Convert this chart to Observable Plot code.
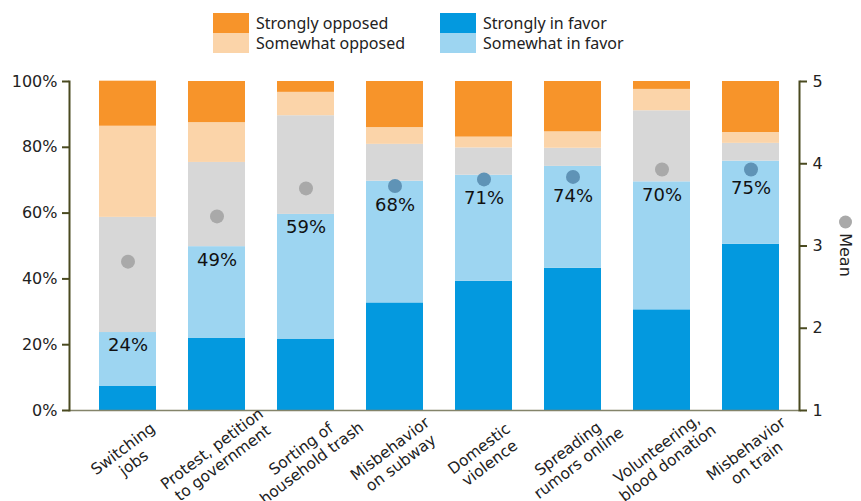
<!DOCTYPE html>
<html><head><meta charset="utf-8">
<script src="https://cdn.jsdelivr.net/npm/d3@7"></script>
<script src="https://cdn.jsdelivr.net/npm/@observablehq/plot@0.6"></script>
<style>
body{margin:0;background:#fff;width:861px;height:501px;overflow:hidden;font-family:"DejaVu Sans",sans-serif}
#legend{position:relative;height:60px}
.sw{position:absolute;width:36px;height:20px}
.lt{position:absolute;font-family:"Noto Sans",sans-serif;font-size:16px;color:#222;line-height:20px;white-space:nowrap}
</style></head><body>
<div id="legend"></div>
<div id="chart"></div>
<script>
// ---------- data ----------
const categories = ["Switching jobs","Protest, petition to government","Sorting of household trash","Misbehavior on subway","Domestic violence","Spreading rumors online","Volunteering, blood donation","Misbehavior on train"];
const categoryLabels = ["Switching\njobs","Protest, petition\nto government","Sorting of\nhousehold trash","Misbehavior\non subway","Domestic\nviolence","Spreading\nrumors online","Volunteering,\nblood donation","Misbehavior\non train"];
const levels = ["Strongly in favor","Somewhat in favor","Neutral","Somewhat opposed","Strongly opposed"];
const levelColors = ["#0399df","#9dd5f1","#d7d7d7","#fbd4a9","#f7942a"];
const stronglyFavor   = [7.3, 22.0, 21.7, 32.7, 39.3, 43.2, 30.6, 50.5];
const somewhatFavor   = [16.4, 27.8, 37.9, 37.0, 32.2, 31.0, 38.9, 25.3];
const neutral         = [35.0, 25.6, 30.0, 11.2, 8.3, 5.5, 21.6, 5.4];
const somewhatOpposed = [27.7, 12.1, 7.1, 5.1, 3.3, 5.0, 6.5, 3.3];
const stronglyOpposed = [13.7, 12.5, 3.3, 14.0, 16.9, 15.3, 2.4, 15.5];
const favorLabels = [24, 49, 59, 68, 71, 74, 70, 75];
const means = [2.81, 3.36, 3.70, 3.73, 3.81, 3.84, 3.93, 3.93];
const pctTicks = [0, 20, 40, 60, 80, 100];
const meanTicks = [1, 2, 3, 4, 5];
const legendColumns = [["Strongly opposed","Somewhat opposed"],["Strongly in favor","Somewhat in favor"]];

// ---------- derived ----------
const series = [stronglyFavor, somewhatFavor, neutral, somewhatOpposed, stronglyOpposed];
const rows = categories.flatMap((c, i) => levels.map((l, j) => ({category: c, level: l, value: series[j][i]})));
const meanToPct = m => (m - 1) / 4 * 100;
const pctToMean = p => 1 + p / 100 * 4;
const summary = categories.map((c, i) => {
  const favor = stronglyFavor[i] + somewhatFavor[i];
  const mp = meanToPct(means[i]);
  return {category: c, label: favorLabels[i] + "%", favor, meanPct: mp,
          labelPct: Math.min(favor - 4, mp - 5.8), onBlue: mp < favor, xlabel: categoryLabels[i]};
});

// ---------- legend ----------
const legend = document.getElementById("legend");
const colorOf = l => levelColors[levels.indexOf(l)];
legendColumns.forEach((col, ci) => {
  col.forEach((lab, ri) => {
    const left = 213 + ci * 227, top = 13 + ri * 20;
    const sw = document.createElement("div");
    sw.className = "sw"; sw.style.left = left + "px"; sw.style.top = top + "px"; sw.style.background = colorOf(lab);
    const t = document.createElement("div");
    t.className = "lt"; t.style.left = (left + 43) + "px"; t.style.top = top + "px"; t.textContent = lab;
    legend.append(sw, t);
  });
});

// ---------- chart ----------
const axisColor = "#4a4a20";
const H = 441, MB = 91;
const plot = Plot.plot({
  width: 861, height: H,
  marginTop: 21, marginBottom: MB, marginLeft: 69, marginRight: 62,
  style: {fontFamily: '"DejaVu Sans", sans-serif', fontSize: "16px", color: "#222", background: "#fff", overflow: "visible"},
  x: {domain: categories, paddingInner: 0.365, paddingOuter: 0.1825, insetLeft: 11, insetRight: 1, axis: null},
  y: {domain: [0, 100], axis: null},
  color: {domain: levels, range: levelColors},
  marks: [
    Plot.barY(rows, {x: "category", y: "value", fill: "level"}),
    Plot.ruleY([0], {stroke: "#84846a", strokeWidth: 1.5}),
    Plot.frame({anchor: "left", stroke: axisColor, strokeWidth: 2}),
    Plot.frame({anchor: "right", stroke: axisColor, strokeWidth: 2}),
    Plot.axisY({anchor: "left", ticks: pctTicks, tickFormat: d => d + "%", tickSize: 7, tickPadding: 5,
                stroke: axisColor, strokeWidth: 2, fill: "#222", fontSize: 16}),
    Plot.axisY({anchor: "right", ticks: meanTicks.map(meanToPct), tickFormat: d => String(Math.round(pctToMean(d))),
                tickSize: 7, tickPadding: 6, stroke: axisColor, strokeWidth: 2, fill: "#222", fontSize: 16}),
    Plot.dot(summary.filter(d => !d.onBlue), {x: "category", y: "meanPct", r: 7, fill: "#a9a9a9", stroke: null}),
    Plot.dot(summary.filter(d => d.onBlue), {x: "category", y: "meanPct", r: 7, fill: "#5f93b6", stroke: null}),
    Plot.text(summary, {x: "category", y: "labelPct", text: "label", fontSize: 18, fill: "#111", lineAnchor: "middle"}),
    Plot.text(summary, {x: "category", text: "xlabel", frameAnchor: "bottom", rotate: -37, textAnchor: "middle",
                        lineAnchor: "middle", fontSize: 15.5, lineHeight: 1.15, dy: 45, fill: "#222", ariaLabel: "xlabels"}),
    Plot.dot([0], {frameAnchor: "right", dx: 46, dy: -24, r: 6.5, fill: "#a9a9a9"}),
    Plot.text(["Mean"], {frameAnchor: "right", text: d => d, dx: 46, dy: 9, rotate: 90, textAnchor: "middle",
                         lineAnchor: "middle", fontSize: 16, fill: "#222"})
  ]
});
document.getElementById("chart").append(plot);

// place rotated category labels so their bounding box hangs just under the baseline
const svgRect = plot.getBoundingClientRect();
const frameBottom = H - MB;
plot.querySelectorAll('g[aria-label="xlabels"] text').forEach(t => {
  const tr = t.getAttribute("transform") || "";
  const m = tr.match(/translate\(([-\d.]+),\s*([-\d.]+)\)/);
  if (!m) return;
  const x = +m[1], y = +m[2];
  const r = t.getBoundingClientRect();
  const cx = (r.left + r.right) / 2 - svgRect.left;
  const top = r.top - svgRect.top;
  const nx = x + (x - 3 - cx), ny = y + (frameBottom + 10 - top);
  t.setAttribute("transform", tr.replace(m[0], `translate(${nx},${ny})`));
});
</script>
</body></html>
